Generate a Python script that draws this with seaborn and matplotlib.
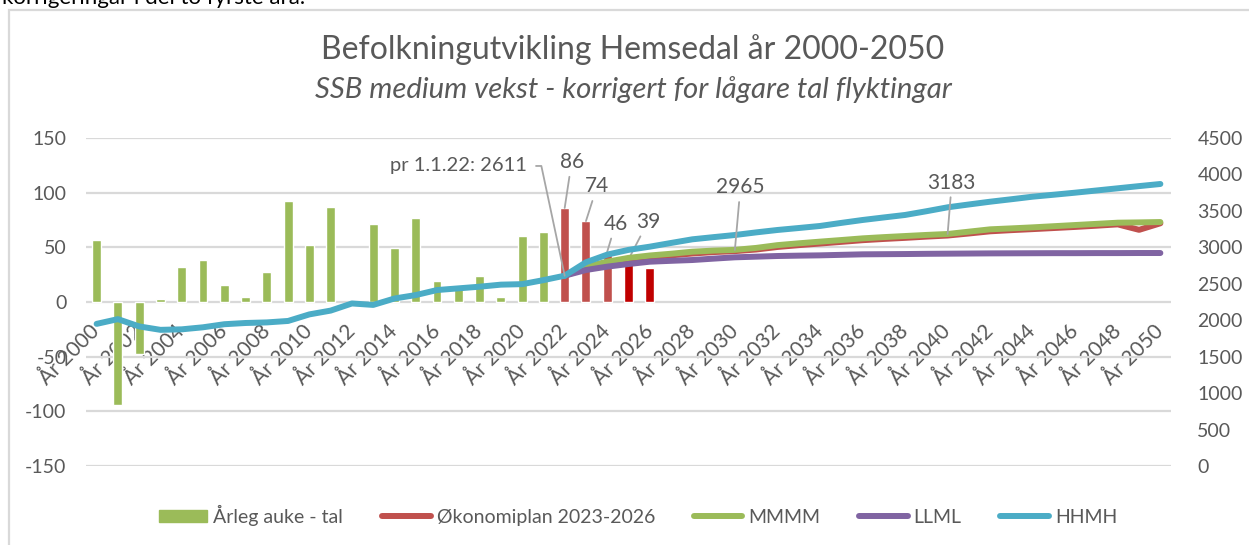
import matplotlib
matplotlib.use('Agg')
import matplotlib.pyplot as plt
from matplotlib.lines import Line2D
from matplotlib.patches import Patch, Rectangle
import seaborn as sns
import pandas as pd

# x categories
years = list(range(2000, 2051))
year_labels = ['År ' + str(y) for y in years]
tick_years = list(range(2000, 2051, 2))

# annual change (bars), 2000-2026
bar_years = list(range(2000, 2027))
auke = [57, -94, -48, 3, 32, 38, 16, 5, 27, 92, 52, 87, 0, 71, 49, 77, 19, 12, 24, 5, 60, 64,
        86, 74, 46, 39, 31]
bar_kind = ['hist'] * 22 + ['plan'] * 3 + ['plan2'] * 2

# population, historical 2000-2022
hist_years = list(range(2000, 2023))
hist_pop = [1950, 2015, 1915, 1868, 1875, 1903, 1945, 1962, 1970, 1990, 2080, 2132, 2230, 2210,
            2298, 2345, 2414, 2437, 2460, 2488, 2495, 2550, 2611]

# projections 2022-2050
proj_years = list(range(2022, 2051))
okonomiplan = [2611, 2715, 2780, 2835, 2865, 2890, 2915, 2935, 2948, 2970, 3005, 3030, 3052,
               3075, 3098, 3115, 3130, 3147, 3162, 3190, 3220, 3236, 3250, 3265, 3280, 3297,
               3315, 3240, 3330]
mmmm = [2611, 2735, 2803, 2855, 2888, 2912, 2940, 2955, 2965, 2992, 3030, 3055, 3078, 3100,
        3123, 3140, 3155, 3170, 3183, 3215, 3247, 3260, 3274, 3290, 3306, 3322, 3338, 3342, 3347]
llml = [2611, 2689, 2735, 2771, 2803, 2815, 2826, 2845, 2863, 2872, 2881, 2886, 2890, 2897,
        2904, 2906, 2908, 2911, 2913, 2915, 2917, 2918, 2919, 2920, 2920, 2921, 2921, 2922, 2922]
hhmh = [2611, 2795, 2900, 2965, 3009, 3060, 3110, 3140, 3169, 3205, 3238, 3265, 3293, 3335,
        3375, 3410, 3444, 3495, 3549, 3588, 3626, 3660, 3695, 3722, 3750, 3780, 3810, 3840, 3869]

GREY = '#595959'
GRID = '#D9D9D9'
C_GREEN = '#9BBB59'
C_RED = '#C0504D'
C_DARKRED = '#C00000'
C_PURPLE = '#8064A2'
C_BLUE = '#4BACC6'

sns.set_theme(style='white')
plt.rcParams['font.family'] = ['Lato', 'DejaVu Sans']
plt.rcParams['axes.unicode_minus'] = False

fig = plt.figure(figsize=(12.49, 5.45), dpi=100)
ax = fig.add_axes([86 / 1249, 79 / 545, 1085 / 1249, 328 / 545])

df_bars = pd.DataFrame({'aar': ['År ' + str(y) for y in bar_years], 'auke': auke, 'kind': bar_kind})
pal = {'hist': C_GREEN, 'plan': C_RED, 'plan2': C_DARKRED}
sns.barplot(data=df_bars, x='aar', y='auke', hue='kind', palette=pal, order=year_labels,
            width=0.42, dodge=False, saturation=1, errorbar=None, legend=False, ax=ax)

ax.set_xlim(-0.5, 50.5)
ax.set_ylim(-150, 150)
ax.set_yticks(range(-150, 151, 50))
ax.yaxis.grid(True, color=GRID, lw=1.6)
ax.xaxis.grid(False)
ax.set_axisbelow(True)
for s in ax.spines.values():
    s.set_visible(False)
ax.spines['bottom'].set_position(('data', 0))
ax.set_xticks([y - 2000 for y in tick_years])
ax.set_xticklabels(['År ' + str(y) for y in tick_years])
ax.tick_params(axis='x', length=0, pad=19, labelsize=15, labelcolor=GREY)
for lab in ax.get_xticklabels():
    lab.set_rotation(45)
    lab.set_ha('right')
    lab.set_va('center')
    lab.set_rotation_mode('anchor')
ax.tick_params(axis='y', length=0, pad=14, labelsize=14, labelcolor=GREY)
ax.set_xlabel('')
ax.set_ylabel('')

ax2 = ax.twinx()
lw = 4.3
sns.lineplot(x=[y - 2000 for y in proj_years], y=okonomiplan, color=C_RED, lw=lw,
             solid_capstyle='round', ax=ax2)
sns.lineplot(x=[y - 2000 for y in proj_years], y=mmmm, color=C_GREEN, lw=lw,
             solid_capstyle='round', ax=ax2)
sns.lineplot(x=[y - 2000 for y in proj_years], y=llml, color=C_PURPLE, lw=lw,
             solid_capstyle='round', ax=ax2)
sns.lineplot(x=[y - 2000 for y in hist_years], y=hist_pop, color=C_BLUE, lw=lw,
             solid_capstyle='round', ax=ax2)
sns.lineplot(x=[y - 2000 for y in proj_years], y=hhmh, color=C_BLUE, lw=lw,
             solid_capstyle='round', ax=ax2)
ax2.set_xlim(-0.5, 50.5)
ax2.set_ylim(0, 4500)
ax2.set_yticks(range(0, 4501, 500))
ax2.grid(False)
for s in ax2.spines.values():
    s.set_visible(False)
ax2.tick_params(axis='y', length=0, pad=19, labelsize=14, labelcolor=GREY)
ax2.set_ylabel('')

# data labels with leader lines
lead = dict(arrowstyle='-', color='#A6A6A6', lw=1.3, shrinkA=1, shrinkB=0)
lab_kw = dict(fontsize=15, color=GREY, ha='center', va='center', textcoords='offset points')
for yr, dx, dy in [(2022, 5, 33), (2023, 8, 25), (2024, 6, 20), (2025, 14, 27)]:
    v = auke[bar_years.index(yr)]
    ax.annotate(str(v), xy=(yr - 2000, v), xytext=(dx, dy), arrowprops=lead, **lab_kw)
for yr, dx, dy in [(2030, 4, 45), (2040, 3, 37)]:
    v = mmmm[proj_years.index(yr)]
    ax2.annotate(str(v), xy=(yr - 2000, v), xytext=(dx, dy), arrowprops=lead, **lab_kw)
ax2.annotate('pr 1.1.22: 2611', xy=(22, hist_pop[-1]), xytext=(-27, 79),
             fontsize=14.5, color=GREY, ha='right', va='center', textcoords='offset points',
             arrowprops=dict(arrowstyle='-', color='#A6A6A6', lw=1.3, shrinkA=4, shrinkB=0,
                             connectionstyle='angle,angleA=0,angleB=102,rad=0'))

fig.text(633 / 1249, 1 - 50 / 545, 'Befolkningutvikling Hemsedal år 2000-2050',
         ha='center', va='center', fontsize=23, color=GREY)
fig.text(633 / 1249, 1 - 90 / 545, 'SSB medium vekst - korrigert for lågare tal flyktingar',
         ha='center', va='center', fontsize=21.2, color=GREY, style='italic')
fig.text(0.002, 1 - 4 / 545, 'korrigeringar i del to fyrste åra.', ha='left', va='baseline',
         fontsize=16, color='black')

fig.patches.append(Rectangle((9 / 1249, -0.05), 1.1, 1 - 10 / 545 + 0.05,
                             transform=fig.transFigure, fill=False, ec=GRID, lw=1.6))

handles = [Patch(color=C_GREEN),
           Line2D([], [], color=C_RED, lw=lw, solid_capstyle='round'),
           Line2D([], [], color=C_GREEN, lw=lw, solid_capstyle='round'),
           Line2D([], [], color=C_PURPLE, lw=lw, solid_capstyle='round'),
           Line2D([], [], color=C_BLUE, lw=lw, solid_capstyle='round')]
labels = ['Årleg auke - tal', 'Økonomiplan 2023-2026', 'MMMM', 'LLML', 'HHMH']
leg = fig.legend(handles, labels, loc='center', bbox_to_anchor=(638 / 1249, 30 / 545), ncol=5,
                 frameon=False, fontsize=14, handlelength=2.5, handleheight=0.55,
                 handletextpad=0.3, columnspacing=2.0)
for t in leg.get_texts():
    t.set_color(GREY)

fig.savefig('out.png', dpi=100)
